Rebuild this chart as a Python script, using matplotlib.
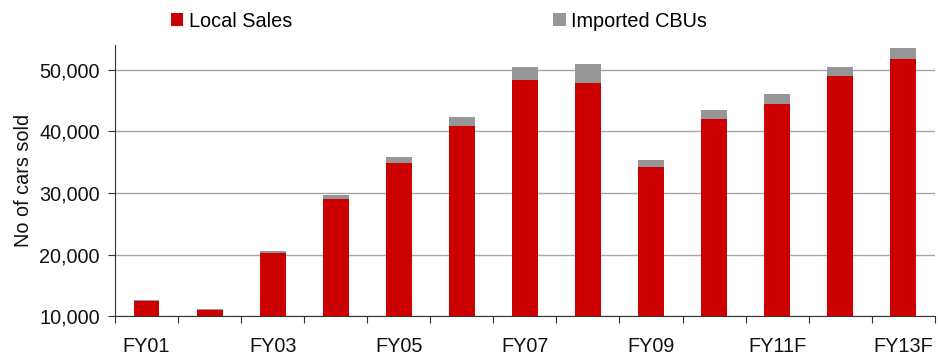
import numpy as np
import matplotlib
matplotlib.use("Agg")
import matplotlib.pyplot as plt

plt.rcParams["font.family"] = ["Liberation Sans", "DejaVu Sans"]
plt.rcParams["font.size"] = 14.3

years = ["FY01", "FY02", "FY03", "FY04", "FY05", "FY06", "FY07",
         "FY08", "FY09", "FY10", "FY11F", "FY12F", "FY13F"]
local_sales = [12500, 11050, 20250, 29000, 34800, 40800, 48400,
               47800, 34200, 41950, 44400, 48900, 51800]
imported_cbus = [150, 120, 350, 650, 1000, 1600, 2100,
                 3050, 1100, 1450, 1600, 1600, 1750]

BASE = 10000
RED = "#CC0000"
GREY = "#969696"

fig = plt.figure(figsize=(9.38, 3.56), dpi=100)
ax = fig.add_axes([0.1226, 0.1115, 0.874, 0.762])

x = np.arange(len(years))
local = np.array(local_sales) - BASE
ax.bar(x, local, bottom=BASE, width=0.41, color=RED, label="Local Sales", zorder=3)
ax.bar(x, imported_cbus, bottom=np.array(local_sales), width=0.41, color=GREY,
       label="Imported CBUs", zorder=3)

ax.set_xlim(-0.5, len(years) - 0.5)
ax.set_ylim(BASE, 54000)
ax.set_yticks([10000, 20000, 30000, 40000, 50000])
ax.set_yticklabels([f"{v:,}" for v in ax.get_yticks()])
ax.yaxis.grid(True, color="#A6A6A6", linewidth=1.0, zorder=0)

# separators between categories, labels on every other year
ax.set_xticks(np.arange(-0.5, len(years), 1.0))
ax.set_xticklabels([])
ax.set_xticks(x[::2], minor=True)
ax.set_xticklabels(years[::2], minor=True)
ax.tick_params(axis="x", which="major", direction="out", length=5, color="#333333")
ax.tick_params(axis="x", which="minor", length=0, pad=15, labelcolor="#111111")
ax.tick_params(axis="y", direction="out", length=5, pad=6, color="#333333",
               labelcolor="#111111")

for s in ("top", "right"):
    ax.spines[s].set_visible(False)
ax.spines["left"].set_color("#333333")
ax.spines["bottom"].set_color("#333333")

ax.set_ylabel("No of cars sold", color="#111111")
ax.yaxis.set_label_coords(-0.100, 0.5)

fig.legend(loc="center", bbox_to_anchor=(0.468, 0.941), ncol=2, frameon=False,
           handlelength=0.63, handleheight=0.63, handletextpad=0.28,
           columnspacing=13.15)

fig.savefig("out.png", dpi=100)
